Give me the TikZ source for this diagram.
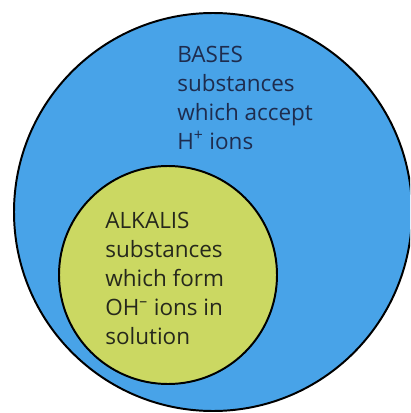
\documentclass[tikz,border=0pt]{standalone}
\usepackage{fontspec}
\setmainfont{Open Sans}
\usepackage{xcolor}
\usetikzlibrary{positioning}

\definecolor{basesblue}{RGB}{72,163,232}
\definecolor{alkaligreen}{RGB}{203,216,98}
\definecolor{basesink}{RGB}{30,44,78}
\definecolor{alkaliink}{RGB}{38,40,28}

\begin{document}
\begin{tikzpicture}[x=0.025cm, y=-0.025cm,
    bigset/.style={circle, draw=black, line width=1.4pt, fill=basesblue, minimum size=398*0.025cm, inner sep=0pt},
    subset/.style={circle, draw=black, line width=1.4pt, fill=alkaligreen, minimum size=218*0.025cm, inner sep=0pt},
    settext/.style={align=left, inner sep=0pt, font=\fontsize{16}{20.6}\selectfont}
]

\clip (0,0) rectangle (410,413);
\fill[white] (0,0) rectangle (410,413);

% Sets
\node[bigset] (bases) at (213,212) {};
\node[subset] (alkalis) at (168,275) {};

% Labels
\node[settext, text=basesink, anchor=north west] (basestxt) at (177,46) {BASES\\substances\\which accept\\H\textsuperscript{+} ions};
\node[settext, text=alkaliink, anchor=north west] (alkalistxt) at (105,212) {ALKALIS\\substances\\which form\\OH\textsuperscript{–} ions in\\solution};

\end{tikzpicture}
\end{document}
